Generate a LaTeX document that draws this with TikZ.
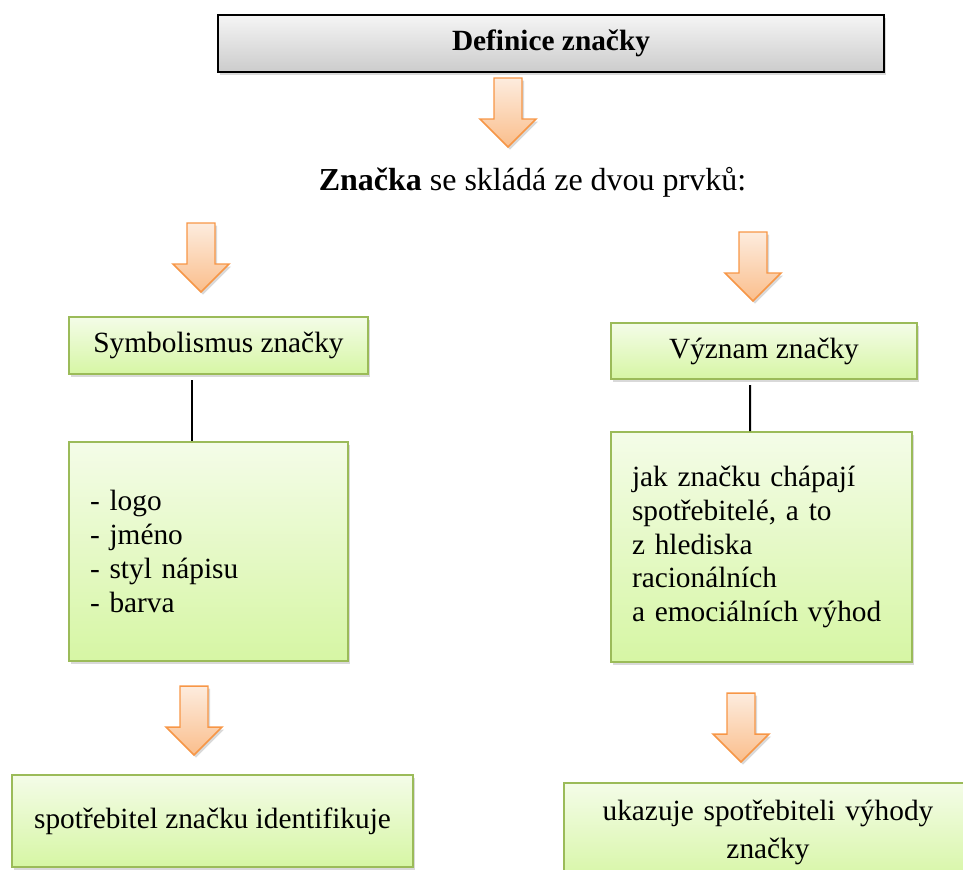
\documentclass[tikz,border=0pt]{standalone}
\usepackage{fontspec}
\setmainfont{Liberation Serif}
\usetikzlibrary{shadows}

\definecolor{boxgreen}{RGB}{155,187,89}
\definecolor{greentop}{RGB}{244,252,232}
\definecolor{greenbot}{RGB}{214,246,164}
\definecolor{arroworange}{RGB}{247,150,70}
\definecolor{orangetop}{RGB}{253,236,222}
\definecolor{orangebot}{RGB}{250,190,140}

\tikzset{
    softshadow/.style={drop shadow={shadow xshift=1.5pt, shadow yshift=-2pt, opacity=0.3}},
    greenbox/.style={draw=boxgreen, line width=1.2pt, top color=greentop, bottom color=greenbot, softshadow, inner xsep=15.75pt, font=\fontsize{22}{25.5}\selectfont},
    graybox/.style={draw=black, line width=1.2pt, top color=gray!8, bottom color=gray!40, softshadow, font=\fontsize{22}{26}\selectfont\bfseries},
    orangearrow/.style={draw=arroworange, line width=1.1pt, top color=orangetop, bottom color=orangebot, softshadow},
    stem/.style={draw=black, line width=1.5pt},
    blockdown/.pic={
        \path[orangearrow] (-14,0) -- (14,0) -- (14,41) -- (28,41) -- (0,69) -- (-28,41) -- (-14,41) -- cycle;
    }
}

\begin{document}
\begin{tikzpicture}[x=0.75pt, y=-0.75pt]
            \useasboundingbox (0,0) rectangle (963,869);

            \node[graybox, minimum width=499.5pt, minimum height=42.75pt] (defn) at (551,43.5) {Definice značky};
                \pic (toparrow) at (508,78) {blockdown};
            \node[anchor=base, font=\fontsize{24}{28}\selectfont] (parts) at (532.5,190) {\textbf{Značka} se skládá ze dvou prvků:};

            \pic (leftarrow) at (201,223) {blockdown};
            \pic (rightarrow) at (753,232) {blockdown};

            \node[greenbox, minimum width=224.25pt, minimum height=42.75pt] (symbol) at (218.5,345.5) {Symbolismus značky};
            \node[greenbox, text width=177.75pt, minimum height=164.25pt, align=left] (elements) at (208.5,551.5) {- logo\\- jméno\\- styl nápisu\\- barva};
                \draw[stem, shorten <=4pt] ([xshift=-19.9pt]symbol.south) -- ([xshift=-12.4pt]elements.north);

            \node[greenbox, minimum width=229.5pt, minimum height=42pt] (meaning) at (764,351) {Význam značky};
            \node[greenbox, text width=194.25pt, minimum height=172.5pt, align=left, font=\fontsize{22}{25.3}\selectfont] (perception) at (761.5,547) {jak značku chápají\\spotřebitelé, a to\\z hlediska\\racionálních\\a emociálních výhod};
                \draw[stem, shorten <=4pt] ([xshift=-10.5pt]meaning.south) -- ([xshift=-8.6pt]perception.north);

            \pic (idarrow) at (194,686) {blockdown};
            \pic (benefitarrow) at (741,693) {blockdown};

            \node[greenbox, minimum width=300.75pt, minimum height=69pt] (identify) at (212.5,821) {spotřebitel značku identifikuje};
            \node[greenbox, text width=274.5pt, minimum height=75pt, align=center, anchor=north, font=\fontsize{22}{28.5}\selectfont] (benefits) at (768,782) {ukazuje spotřebiteli výhody\\značky};
      \end{tikzpicture}
\end{document}
